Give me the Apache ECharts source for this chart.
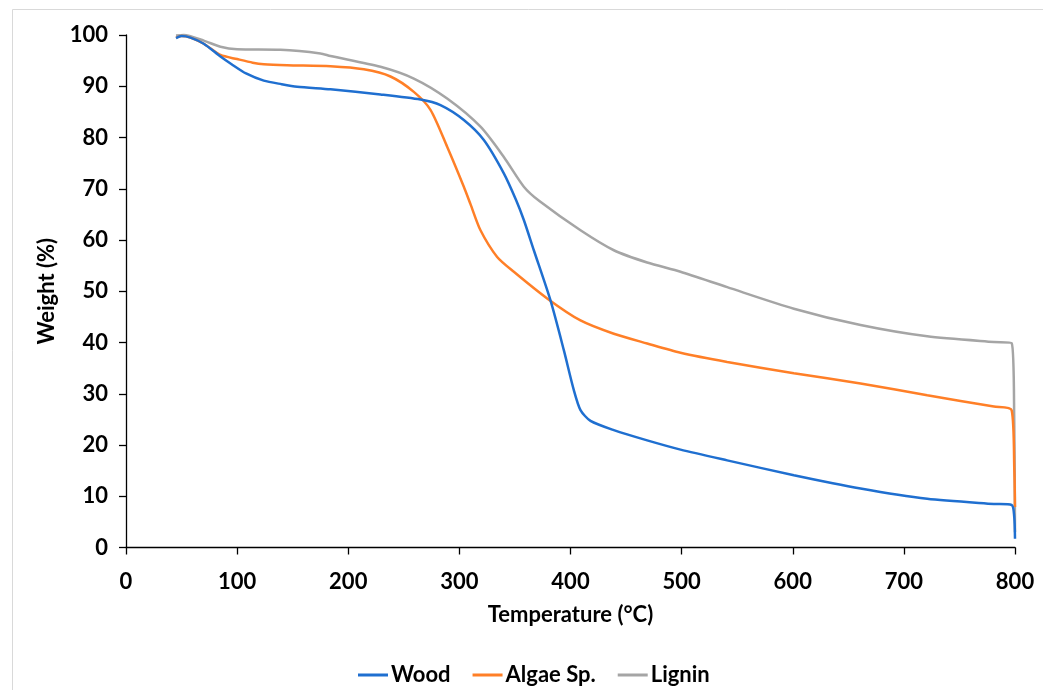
<!DOCTYPE html>
<html>
<head>
<meta charset="utf-8">
<script src="https://cdn.jsdelivr.net/npm/echarts@6/dist/echarts.min.js"></script>
<style>
html,body{margin:0;padding:0;background:#fff;}
#chart{width:1043px;height:690px;}
</style>
</head>
<body>
<div id="chart"></div>
<script>
// Temperature (°C) and weight (%) readings for each sample
const woodT = [45, 50, 58, 70, 85, 95, 108, 124, 140, 154, 184, 229, 265, 283, 304, 322, 340, 351, 358, 367, 382, 394, 403, 409, 418, 439, 469, 499, 541, 601, 661, 721, 781, 797, 799.3, 800];
const woodW = [99.4, 99.8, 99.5, 98.3, 95.8, 94.3, 92.5, 91.1, 90.4, 89.9, 89.4, 88.4, 87.4, 86.3, 83.4, 79.5, 73.0, 67.8, 63.9, 58.0, 48.2, 38.5, 30.7, 26.8, 24.7, 22.9, 20.9, 19.1, 17.0, 14.1, 11.5, 9.5, 8.5, 8.3, 6.0, 1.7];

const algaeT = [45, 50, 58, 70, 85, 100, 114, 124, 145, 184, 214, 238, 259, 274, 289, 304, 310, 319, 334, 349, 379, 409, 439, 469, 499, 541, 601, 661, 721, 781, 797, 799.4, 800];
const algaeW = [99.5, 99.8, 99.5, 98.3, 96.1, 95.3, 94.6, 94.3, 94.1, 93.9, 93.3, 91.9, 88.9, 85.4, 78.2, 70.4, 67.0, 61.9, 56.7, 53.8, 48.6, 44.3, 41.7, 39.8, 38.0, 36.2, 34.0, 32.0, 29.7, 27.5, 26.8, 15.0, 7.9];

const ligninT = [45, 52, 70, 85, 100, 139, 175, 184, 229, 259, 289, 319, 340, 358, 372, 409, 439, 469, 499, 541, 601, 661, 721, 781, 797, 799.3, 800];
const ligninW = [99.9, 100, 98.9, 97.7, 97.2, 97.1, 96.4, 95.9, 93.8, 91.5, 87.6, 82.1, 76.2, 70.4, 67.6, 61.9, 58.0, 55.6, 53.8, 50.8, 46.6, 43.4, 41.2, 40.1, 39.9, 25.0, 3.0];

const seriesNames = ['Wood', 'Algae Sp.', 'Lignin'];
const seriesColors = ['#1f6fd0', '#ff7f27', '#a5a5a5'];
const xTicks = [0, 100, 200, 300, 400, 500, 600, 700, 800];
const yTicks = [0, 10, 20, 30, 40, 50, 60, 70, 80, 90, 100];

const pairs = (t, w) => t.map((v, i) => [v, w[i]]);
const allData = [pairs(woodT, woodW), pairs(algaeT, algaeW), pairs(ligninT, ligninW)];

const FONT = 'Lato';
const chart = echarts.init(document.getElementById('chart'), null, {renderer: 'canvas'});
chart.setOption({
  backgroundColor: '#fff',
  animation: false,
  textStyle: {fontFamily: FONT},
  graphic: [{
    type: 'rect', silent: true, z: -10,
    shape: {x: 12.5, y: 9.5, width: 1200, height: 900},
    style: {fill: 'none', stroke: '#d9d9d9', lineWidth: 1}
  }],
  grid: {left: 126, right: 28, top: 35, bottom: 142.5, containLabel: false},
  legend: {
    data: seriesNames,
    left: 353, top: 659,
    icon: 'rect', itemWidth: 30, itemHeight: 3, itemGap: 22,
    textStyle: {fontFamily: FONT, fontSize: 22, fontWeight: 'bold', color: '#000', padding: [0, 0, 0, -2]}
  },
  xAxis: {
    type: 'value', min: xTicks[0], max: xTicks[xTicks.length - 1], interval: 100,
    name: 'Temperature (°C)', nameLocation: 'middle', nameGap: 56,
    nameTextStyle: {fontFamily: FONT, fontSize: 22, fontWeight: 'bold', color: '#000'},
    axisLine: {show: true, onZero: false, lineStyle: {color: '#000', width: 1.3}},
    axisTick: {show: true, inside: false, length: 7, lineStyle: {color: '#000', width: 1.3}},
    axisLabel: {margin: 23, fontFamily: FONT, fontSize: 22, fontWeight: 'bold', color: '#000'},
    splitLine: {show: false}
  },
  yAxis: {
    type: 'value', min: yTicks[0], max: yTicks[yTicks.length - 1], interval: 10,
    name: 'Weight (%)', nameLocation: 'middle', nameGap: 68, nameRotate: 90,
    nameTextStyle: {fontFamily: FONT, fontSize: 22, fontWeight: 'bold', color: '#000'},
    axisLine: {show: true, onZero: false, lineStyle: {color: '#000', width: 1.3}},
    axisTick: {show: true, inside: false, length: 7, lineStyle: {color: '#000', width: 1.3}},
    axisLabel: {margin: 18, fontFamily: FONT, fontSize: 22, fontWeight: 'bold', color: '#000'},
    splitLine: {show: false}
  },
  series: seriesNames.map((n, i) => ({
    name: n, type: 'line', data: allData[i],
    smooth: 0.25,
    symbol: 'none', showSymbol: false, clip: false,
    lineStyle: {color: seriesColors[i], width: 2.5},
    itemStyle: {color: seriesColors[i]},
    z: 3 - i
  }))
});
</script>
</body>
</html>
